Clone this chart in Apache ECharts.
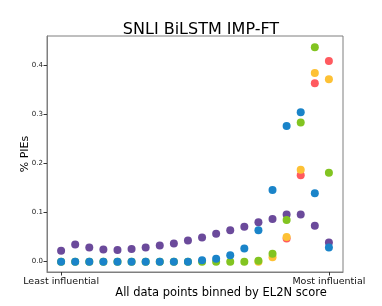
<!DOCTYPE html>
<html><head><meta charset="utf-8">
<script src="https://cdn.jsdelivr.net/npm/echarts@6/dist/echarts.min.js"></script>
<style>html,body{margin:0;padding:0;background:#fff}#c{width:382px;height:306px}</style>
</head><body><div id="c"></div>
<script>
const bins = [0,1,2,3,4,5,6,7,8,9,10,11,12,13,14,15,16,17,18,19];
const xTickValues = [0, 19];
const xTickLabels = {0: 'Least influential', 19: 'Most influential'};
const yTickValues = [0, 0.1, 0.2, 0.3, 0.4];
const purple = [0.022,0.035,0.029,0.025,0.024,0.026,0.029,0.033,0.037,0.043,0.049,0.057,0.064,0.071,0.080,0.087,0.096,0.096,0.073,0.039];
const red    = [null,null,null,null,null,null,null,null,null,null,null,null,null,null,null,null,0.047,0.176,0.363,0.408];
const orange = [null,null,null,null,null,null,null,null,null,null,null,null,null,null,0,0.009,0.050,0.187,0.384,0.371];
const green  = [0,0,0,0,0,0,0,0,0,0,0,0,0,0,0.002,0.016,0.085,0.283,0.436,0.181];
const blue   = [0,0,0,0,0,0,0,0,0,0,0.003,0.006,0.013,0.027,0.064,0.146,0.276,0.304,0.139,0.029];
const seriesDefs = [
  {name:'purple', data:purple, color:'#6b4a9b'},
  {name:'red', data:red, color:'#ff5a5f'},
  {name:'orange', data:orange, color:'#fdc135'},
  {name:'green', data:green, color:'#82c421'},
  {name:'blue', data:blue, color:'#1a84c9'}
];
const chart = echarts.init(document.getElementById('c'));
const axisCol = '#7f7f7f';
chart.setOption({
  animation:false,
  title:{text:'SNLI BiLSTM IMP-FT', left:196, top:17, textAlign:'center',
    textStyle:{fontFamily:'DejaVu Sans', fontSize:16, fontWeight:'normal', color:'#000'}},
  grid:{left:47, right:39, top:36, bottom:34, show:true, borderColor:axisCol, borderWidth:1},
  xAxis:{type:'value', min:-1, max:20,
    axisLine:{onZero:false, lineStyle:{color:axisCol}},
    splitLine:{show:false},
    axisTick:{show:true, length:3.5, inside:false, customValues:xTickValues, lineStyle:{color:'#333'}},
    axisLabel:{customValues:xTickValues, formatter:v=>xTickLabels[v]||'', fontFamily:'DejaVu Sans', fontSize:9.5, color:'#111', margin:5}
  },
  yAxis:{type:'value', min:-0.021, max:0.459,
    axisLine:{show:true, onZero:false, lineStyle:{color:axisCol}},
    splitLine:{show:false},
    axisTick:{show:true, length:3.5, customValues:yTickValues, lineStyle:{color:'#333'}},
    axisLabel:{customValues:yTickValues, formatter:v=>v.toFixed(1), fontFamily:'DejaVu Sans', fontSize:7, color:'#222', margin:4}
  },
  graphic:[
    {type:'text', x:221, y:293, style:{text:'All data points binned by EL2N score', font:'11.5px "DejaVu Sans"', fill:'#000', align:'center', verticalAlign:'middle'}},
    {type:'text', x:25, y:154, rotation:Math.PI/2, style:{text:'% PIEs', font:'11px "DejaVu Sans"', fill:'#000', align:'center', verticalAlign:'middle'}}
  ],
  series: seriesDefs.map(s=>({type:'scatter', name:s.name, symbolSize:8,
    itemStyle:{color:s.color, opacity:1},
    data: bins.map((b,i)=>[b, s.data[i]]).filter(p=>p[1]!==null)}))
});
</script></body></html>
